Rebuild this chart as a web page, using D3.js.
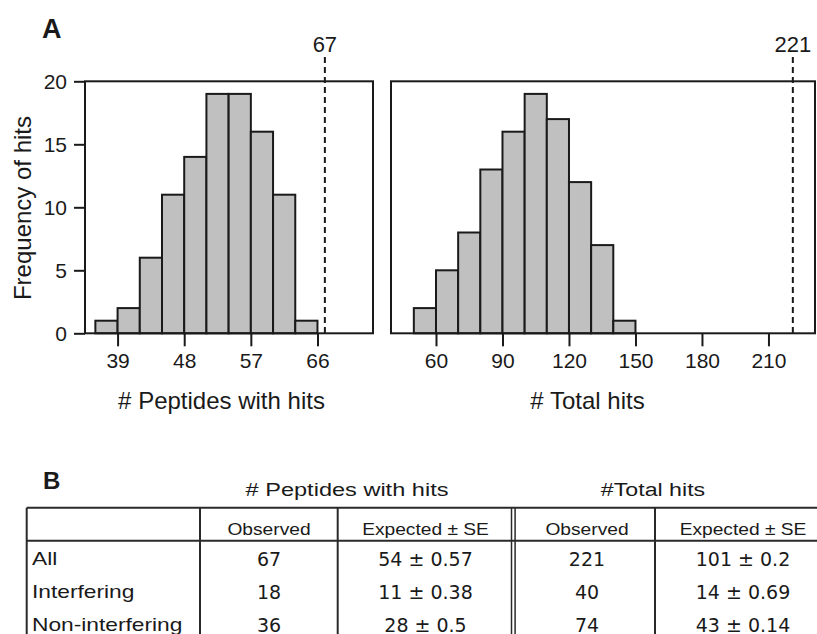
<!DOCTYPE html>
<html><head><meta charset="utf-8">
<script src="https://cdn.jsdelivr.net/npm/d3@7"></script>
<style>body{margin:0;background:#fff}svg{display:block}</style>
</head><body><svg id="c" width="817" height="634"></svg>
<script>
// ---------- data ----------
const pepBinStarts = [36, 39, 42, 45, 48, 51, 54, 57, 60, 63];
const pepBinWidth = 3;
const pepCounts = [1, 2, 6, 11, 14, 19, 19, 16, 11, 1];
const pepTicks = [39, 48, 57, 66];
const pepObserved = 67;

const totBinStarts = [50, 60, 70, 80, 90, 100, 110, 120, 130, 140];
const totBinWidth = 10;
const totCounts = [2, 5, 8, 13, 16, 19, 17, 12, 7, 1];
const totTicks = [60, 90, 120, 150, 180, 210];
const totObserved = 221;

const freqTicks = [0, 5, 10, 15, 20];

const rowLabels = ["All", "Interfering", "Non-interfering"];
const pepObs = ["67", "18", "36"];
const pepExp = ["54 ± 0.57", "11 ± 0.38", "28 ± 0.5"];
const totObs = ["221", "40", "74"];
const totExp = ["101 ± 0.2", "14 ± 0.69", "43 ± 0.14"];
const groupHeaders = ["# Peptides with hits", "#Total hits"];
const subHeaders = ["Observed", "Expected ± SE", "Observed", "Expected ± SE"];

// ---------- drawing ----------
const svg = d3.select("#c");
const INK = "#1a1a1a";
const SANS = "'Liberation Sans', Arial, Helvetica, sans-serif";
const plotTop = 81.3, plotBottom = 333.3;
const y = d3.scaleLinear().domain([0, 20]).range([plotBottom, plotTop]);

function panel(opts) {
  const g = svg.append("g");
  const x = d3.scaleLinear().domain(opts.domain).range([opts.left, opts.right]);
  g.selectAll("rect.bar").data(opts.starts.map((s, i) => ({s, c: opts.counts[i]})))
    .join("rect").attr("class", "bar")
    .attr("x", d => x(d.s)).attr("width", d => x(d.s + opts.bw) - x(d.s))
    .attr("y", d => y(d.c)).attr("height", d => y(0) - y(d.c))
    .attr("fill", "#c0c0c0").attr("stroke", INK).attr("stroke-width", 2);
  g.append("rect").attr("x", opts.left).attr("y", plotTop)
    .attr("width", opts.right - opts.left).attr("height", plotBottom - plotTop)
    .attr("fill", "none").attr("stroke", INK).attr("stroke-width", 2);
  const ax = g.append("g").attr("transform", `translate(0,${plotBottom})`)
    .call(d3.axisBottom(x).tickValues(opts.ticks).tickSize(13).tickPadding(7).tickSizeOuter(0));
  ax.select(".domain").remove();
  ax.selectAll("line").attr("stroke", INK).attr("stroke-width", 2);
  ax.selectAll("text").attr("font-family", SANS).attr("font-size", 21).attr("fill", INK);
  g.append("line").attr("x1", x(opts.obs)).attr("x2", x(opts.obs))
    .attr("y1", 57).attr("y2", plotBottom)
    .attr("stroke", INK).attr("stroke-width", 2).attr("stroke-dasharray", "6,4");
  g.append("text").attr("x", x(opts.obs)).attr("y", 52).attr("text-anchor", "middle")
    .attr("font-family", SANS).attr("font-size", 22).attr("fill", INK).text(opts.obs);
  g.append("text").attr("x", opts.titleX).attr("y", 409).attr("text-anchor", "middle")
    .attr("font-family", SANS).attr("font-size", 24).attr("fill", INK).text(opts.title);
  return g;
}

panel({left: 85, right: 373, domain: [34.6, 73.5], starts: pepBinStarts, bw: pepBinWidth,
  counts: pepCounts, ticks: pepTicks, obs: pepObserved, title: "# Peptides with hits", titleX: 221.5});
panel({left: 391, right: 815, domain: [39.7, 231], starts: totBinStarts, bw: totBinWidth,
  counts: totCounts, ticks: totTicks, obs: totObserved, title: "# Total hits", titleX: 587.5});

const ay = svg.append("g").attr("transform", "translate(85,0)")
  .call(d3.axisLeft(y).tickValues(freqTicks).tickSize(11).tickPadding(7).tickSizeOuter(0));
ay.select(".domain").remove();
ay.selectAll("line").attr("stroke", INK).attr("stroke-width", 2);
ay.selectAll("text").attr("font-family", SANS).attr("font-size", 21).attr("fill", INK);

svg.append("text").attr("transform", "translate(31,208) rotate(-90)")
  .attr("text-anchor", "middle").attr("font-family", SANS).attr("font-size", 24)
  .attr("fill", INK).text("Frequency of hits");

svg.append("text").attr("x", 42).attr("y", 38).attr("font-family", SANS)
  .attr("font-weight", "bold").attr("font-size", 27).attr("fill", INK).text("A");
svg.append("text").attr("x", 43).attr("y", 489).attr("font-family", SANS)
  .attr("font-weight", "bold").attr("font-size", 24).attr("fill", INK).text("B");

// ---------- table ----------
const T = svg.append("g");
const LINE = "#2a2a2a";
const tTop = 507.7, tHead = 540.7, tLeft = 26.7, tRight = 830;
const colEdges = [200, 337.7, 513.3, 655];
const colCenters = [269, 425.5, 587, 743];
const rowBase = [566, 599, 631.5];

function stext(x, yy, txt, size, anchor, sx) {
  T.append("g").attr("transform", `translate(${x},${yy}) scale(${sx},1)`)
    .append("text").attr("text-anchor", anchor).attr("font-family", SANS)
    .attr("font-size", size).attr("fill", INK).text(txt);
}

T.append("line").attr("x1", tLeft).attr("x2", tRight).attr("y1", tTop).attr("y2", tTop)
  .attr("stroke", LINE).attr("stroke-width", 2);
T.append("line").attr("x1", tLeft).attr("x2", tRight).attr("y1", tHead).attr("y2", tHead)
  .attr("stroke", LINE).attr("stroke-width", 2);
T.append("line").attr("x1", tLeft).attr("x2", tLeft).attr("y1", tTop).attr("y2", 640)
  .attr("stroke", LINE).attr("stroke-width", 2);
colEdges.forEach((cx, i) => {
  if (i === 2) {
    [cx - 1.8, cx + 1.8].forEach(xx => T.append("line").attr("x1", xx).attr("x2", xx)
      .attr("y1", tTop).attr("y2", 640).attr("stroke", LINE).attr("stroke-width", 1.5));
  } else {
    T.append("line").attr("x1", cx).attr("x2", cx).attr("y1", tTop).attr("y2", 640)
      .attr("stroke", LINE).attr("stroke-width", 2);
  }
});

stext(347, 496, groupHeaders[0], 19, "middle", 1.24);
stext(653, 496, groupHeaders[1], 19, "middle", 1.22);
subHeaders.forEach((h, i) => stext(colCenters[i], 535, h, 16, "middle", 1.2));
rowLabels.forEach((r, i) => stext(32, rowBase[i] - 1, r, 18.5, "start", 1.23));

const cols = [pepObs, pepExp, totObs, totExp];
cols.forEach((col, ci) => {
  col.forEach((v, ri) => {
    T.append("text").attr("x", colCenters[ci]).attr("y", rowBase[ri])
      .attr("text-anchor", "middle").attr("font-family", "'DejaVu Sans', Verdana, sans-serif")
      .attr("font-size", 19).attr("fill", INK).text(v);
  });
});
</script>
</body></html>
